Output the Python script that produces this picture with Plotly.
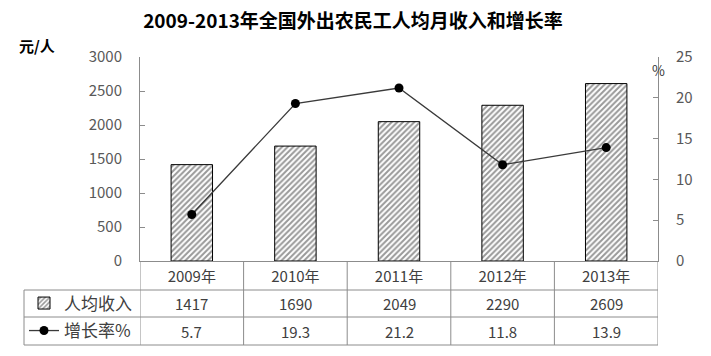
import plotly.graph_objects as go

years = ["2009年", "2010年", "2011年", "2012年", "2013年"]
income = [1417, 1690, 2049, 2290, 2609]
growth = [5.7, 19.3, 21.2, 11.8, 13.9]
income_labels = ["1417", "1690", "2049", "2290", "2609"]
growth_labels = ["5.7", "19.3", "21.2", "11.8", "13.9"]
y_left_ticks = [0, 500, 1000, 1500, 2000, 2500, 3000]
y_right_ticks = [0, 5, 10, 15, 20, 25]

W, H = 711, 356
L, R, T, B = 140, 658, 57, 261
pw, ph = R - L, B - T

def py(ypix):
    return (B - ypix) / ph

def px(xpix):
    return (xpix - L) / pw

CJK = "Noto Sans CJK SC, Noto Sans, sans-serif"
TXT = "#404040"
GRID = "#8c8c8c"

fig = go.Figure()
fig.add_trace(go.Bar(
    x=years, y=income, name="人均收入", width=0.4,
    marker=dict(color="white", line=dict(color="black", width=1),
                pattern=dict(shape="/", fgcolor="#333333", bgcolor="white", size=4, solidity=0.5)),
    legend="legend",
))
fig.add_trace(go.Scatter(
    x=years, y=growth, name="增长率%", yaxis="y2", mode="lines+markers",
    line=dict(color="#3a3a3a", width=1.3),
    marker=dict(color="black", size=9),
    legend="legend2",
))

shapes = []
row_lines = [290, 317, 345]
for yp in row_lines:
    shapes.append(dict(type="line", xref="paper", yref="paper", x0=px(24), x1=1, y0=py(yp), y1=py(yp),
                       line=dict(color=GRID, width=1)))
shapes.append(dict(type="line", xref="paper", yref="paper", x0=px(24), x1=px(24), y0=py(290), y1=py(345),
                   line=dict(color=GRID, width=1)))
for i in range(len(years) + 1):
    shapes.append(dict(type="line", xref="x", yref="paper", x0=i - 0.5, x1=i - 0.5, y0=0, y1=py(345),
                       line=dict(color=GRID, width=1)))

ann = []
for i, (a, b) in enumerate(zip(income_labels, growth_labels)):
    ann.append(dict(x=years[i], xref="x", y=py(303.5), yref="paper", text=a, showarrow=False,
                    font=dict(size=15, color=TXT, family=CJK), yanchor="middle"))
    ann.append(dict(x=years[i], xref="x", y=py(331), yref="paper", text=b, showarrow=False,
                    font=dict(size=15, color=TXT, family=CJK), yanchor="middle"))
ann.append(dict(x=px(17), xref="paper", y=py(45), yref="paper", text="<b>元/人</b>", showarrow=False,
                xanchor="left", yanchor="middle", font=dict(size=15, color="black", family=CJK)))
ann.append(dict(x=1, xref="paper", y=py(70), yref="paper", text="%", showarrow=False,
                xanchor="center", yanchor="middle", font=dict(size=14, color=TXT, family=CJK)))

fig.update_layout(
    width=W, height=H,
    margin=dict(l=L, r=W - R, t=T, b=H - B, autoexpand=False),
    paper_bgcolor="white", plot_bgcolor="white",
    title=dict(text="<b>2009-2013年全国外出农民工人均月收入和增长率</b>", x=353 / W, xanchor="center",
               y=1 - 21 / H, yanchor="middle", font=dict(size=19, color="black", family=CJK)),
    xaxis=dict(type="category", categoryarray=years, range=[-0.5, 4.5], showline=True, linecolor=GRID,
               linewidth=1, ticks="", showgrid=False, tickfont=dict(size=15, color=TXT, family=CJK),
               automargin=False, ticklabelstandoff=2, fixedrange=True),
    yaxis=dict(range=[0, 3000], tickvals=y_left_ticks, showline=True, linecolor=GRID, linewidth=1,
               ticks="inside", ticklen=5, tickcolor=GRID, showgrid=False, zeroline=False,
               tickfont=dict(size=15, color="#595959", family=CJK), automargin=False,
               ticklabelstandoff=14),
    yaxis2=dict(range=[0, 25], tickvals=y_right_ticks, overlaying="y", side="right", showline=True,
                linecolor=GRID, linewidth=1, ticks="inside", ticklen=5, tickcolor=GRID, showgrid=False,
                zeroline=False, tickfont=dict(size=15, color="#595959", family=CJK), automargin=False,
                ticklabelstandoff=14),
    legend=dict(x=px(24), y=py(303.5), xanchor="left", yanchor="middle", xref="paper", yref="paper",
                bgcolor="rgba(0,0,0,0)", font=dict(size=17, color=TXT, family=CJK), itemwidth=30,
                borderwidth=0, tracegroupgap=0),
    legend2=dict(x=px(24), y=py(331), xanchor="left", yanchor="middle", xref="paper", yref="paper",
                 bgcolor="rgba(0,0,0,0)", font=dict(size=17, color=TXT, family=CJK), itemwidth=30,
                 borderwidth=0),
    showlegend=True,
    shapes=shapes,
    annotations=ann,
    bargap=0.6,
)

fig.write_html("out.html", config={"displayModeBar": False},
               post_script="document.body.style.margin='0';document.body.style.overflow='hidden';")
